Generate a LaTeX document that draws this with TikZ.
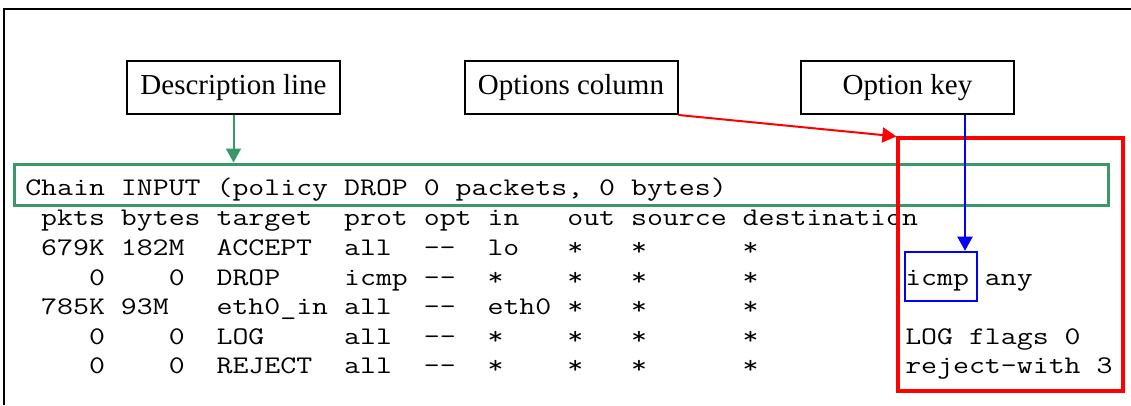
\documentclass[tikz,border=0pt]{standalone}
\usepackage{fontspec}
\setmainfont{Liberation Serif}
\setmonofont{Latin Modern Mono}[FakeStretch=1.222]
\usetikzlibrary{arrows.meta,calc}
\definecolor{dgreen}{RGB}{56,152,104}
\begin{document}
\begin{tikzpicture}[x=0.75pt,y=-0.75pt,
  lbl/.style={draw,line width=1.5pt,minimum width=159.75pt,minimum height=39.75pt,inner sep=0pt,font=\fontsize{21.75pt}{24pt}\selectfont},
  mono/.style={anchor=base west,inner sep=0pt,font=\ttfamily\fontsize{19pt}{22pt}\selectfont},
  hbox/.style={inner sep=0pt},
  arr/.style={line width=1.5pt,-{Triangle[length=10.5pt,width=11.25pt]}}]
\useasboundingbox (0,0) rectangle (1131,405);
\draw[line width=1.9pt] (4,405) -- (4,9) -- (1131,9);
% labels
\node[lbl] (desc) at (233.5,87.5) {Description line};
\node[lbl] (opts) at (571,87.5) {Options column};
\node[lbl] (key) at (907.5,87.5) {Option key};
% table text
\node[mono] (t0) at (25,195) {Chain~INPUT~(policy~DROP~0~packets,~0~bytes)};
\node[mono] (t1) at (25,225) {~pkts~bytes~target~~prot~opt~in~~~out~source~destination};
\node[mono] (t2) at (25,255) {~679K~182M~~ACCEPT~~all~~--~~lo~~~*~~~*~~~~~~*};
\node[mono] (t3) at (25,285) {~~~~0~~~~0~~DROP~~~~icmp~--~~*~~~~*~~~*~~~~~~*};
\node[mono] (t4) at (25,314.5) {~785K~93M~~~eth0\_in~all~~--~~eth0~*~~~*~~~~~~*};
\node[mono] (t5) at (25,344.5) {~~~~0~~~~0~~LOG~~~~~all~~--~~*~~~~*~~~*~~~~~~*};
\node[mono] (t6) at (25,373.5) {~~~~0~~~~0~~REJECT~~all~~--~~*~~~~*~~~*~~~~~~*};
\node[mono] (o1) at (905,285) {icmp~any};
\node[mono] (o2) at (905,344.5) {LOG~flags~0};
\node[mono] (o3) at (905,373.5) {reject-with~3};
% highlight boxes
\node[hbox,draw=dgreen,line width=2.25pt,minimum width=820.5pt,minimum height=30.75pt] (chainbox) at (561,184.5) {};
\node[hbox,draw=red,line width=2.4pt,minimum width=168.75pt,minimum height=189.75pt] (optbox) at (1010.5,264.5) {};
\node[hbox,draw=blue,line width=1.9pt,minimum width=54pt,minimum height=36.75pt] (icmpbox) at (941,276.5) {};
% connectors
\draw[arr,dgreen] (desc.south) -- (desc.south |- chainbox.north);
\draw[arr,red] (opts.south east) -- (optbox.north west);
\coordinate (bk) at ($(key.south)+(57.5,0)$);
\draw[arr,blue] (bk) -- (bk |- icmpbox.north);
\end{tikzpicture}
\end{document}
